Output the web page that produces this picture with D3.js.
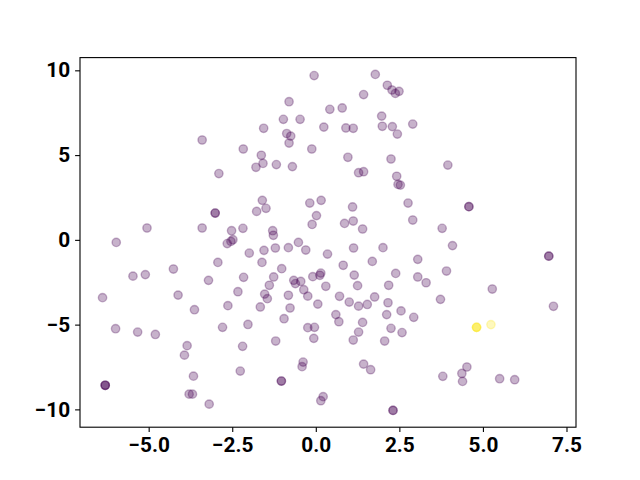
<!DOCTYPE html>
<html>
<head>
<meta charset="utf-8">
<script src="https://cdn.jsdelivr.net/npm/d3@7"></script>
<style>
  body { margin: 0; background: #fff; }
  svg { display: block; }
  .tick text { font-family: Roboto, "DejaVu Sans", sans-serif; font-weight: bold; font-size: 20.8px; fill: #000; }
</style>
</head>
<body>
<svg id="chart" width="640" height="480"></svg>
<script>
// point positions
const xs = [
  -3.40, -2.17, -2.90,
  -0.05, 1.78, 2.14, 2.28, 2.38, 2.49, 1.43, -0.80, 0.42, 0.79, -0.97, -0.47, -1.56, 0.24, 0.90, 1.12,
  1.97, 1.99, 2.29, 2.44, 2.90, -0.87, -0.75, -0.80, -0.12, -1.63, -1.58, -1.79, -1.18, -0.70, 0.96,
  1.28, 1.43, 2.25, 2.42, 2.46, 2.53, 3.95,
  -3.01, -3.01, -5.05, -3.40, -2.52, -2.18, -5.97, -2.65, -2.54, -2.48, -1.99, -2.93, -4.26, -5.47,
  -5.10, -3.21, -2.16, -6.38, -4.12, -2.33, -2.63, -3.63,
  -1.60, -1.77, -1.49, -0.18, 0.16, 0.02, -0.11, 1.10, 2.76, 0.86, 1.12, 1.40, 2.90, -1.29, -1.27,
  -0.52, -0.30, -0.82, -1.21, -1.55, 0.35, 1.13, 2.01, -1.61, -1.02, 0.82, 1.69, 2.39, -1.26, -1.39,
  -0.66, -0.61, -0.45, 0.15, 0.12, -0.09, 1.15, 0.30, -0.36, -0.24, 1.25, 2.18, -1.53, -1.45, -0.82,
  0.71, 1.00, 1.28, 1.54, 1.76, 2.16, -1.66, -0.77, 0.06, 2.55,
  4.58, 4.58, 3.78, 4.09, 6.97, 6.97, 3.05, 3.91, 3.05, 3.30, 5.28, 3.73, 7.11,
  -5.99, -5.33, -4.80, -2.79, -2.03, -3.85, -3.93, -2.19, -3.66, -2.26, -6.30, -6.30, -6.30, -3.79,
  -3.69, -3.19,
  -0.95, 0.60, 0.69, 2.12, -0.24, -0.04, -0.06, 1.40, 1.28, 2.25, 2.58, 1.12, 2.06, -1.20, -0.38,
  -0.41, 1.43, 1.64, -1.03, -1.03, 0.22, 0.15, 2.31, 2.31,
  2.93, 4.37, 4.39, 3.80, 4.52, 5.50, 5.95,
  4.81, 4.81, 4.81, 5.24
];
const ys = [
  5.89, 5.36, 3.91,
  9.69, 9.76, 9.12, 8.84, 8.64, 8.76, 8.57, 8.15, 7.70, 7.78, 7.11, 7.11, 6.58, 6.65, 6.60, 6.58,
  7.30, 6.70, 6.68, 6.24, 6.83, 6.27, 6.12, 5.71, 5.36, 4.99, 4.51, 4.28, 4.44, 4.32, 4.87,
  3.96, 4.02, 4.77, 3.75, 3.27, 3.23, 4.41,
  1.58, 1.58, 0.70, 0.70, 0.54, 0.68, -0.15, -0.22, -0.09, 0.01, -0.78, -1.33, -1.72, -2.14,
  -2.05, -2.39, -2.21, -3.41, -3.26, -3.06, -3.88, -4.12,
  2.33, 1.68, 1.86, 2.17, 2.33, 1.43, 0.91, 1.94, 2.17, 0.97, 1.11, 0.64, 1.17, 0.54, 0.27,
  -0.15, -0.60, -0.46, -0.48, -0.62, -0.84, -0.48, -0.46, -1.33, -1.70, -1.50, -1.27, -1.98, -2.19, -2.68,
  -2.39, -2.58, -2.45, -1.96, -2.09, -2.17, -2.08, -2.74, -2.94, -3.32, -2.70, -2.68, -3.20, -3.47, -3.27,
  -3.33, -3.67, -3.91, -3.81, -3.37, -3.71, -3.96, -4.02, -3.79, -4.19,
  1.96, 1.96, 0.68, -0.34, -0.96, -0.96, -1.15, -1.84, -2.19, -2.53, -2.90, -3.51, -3.92,
  -5.24, -5.44, -5.58, -5.16, -4.99, -6.24, -6.80, -6.28, -8.04, -7.74, -8.58, -8.58, -8.58, -9.10,
  -9.10, -9.69,
  -4.65, -4.41, -4.83, -4.41, -5.18, -5.16, -5.81, -4.87, -5.44, -5.22, -5.47, -5.91, -5.97, -5.97, -7.21,
  -7.48, -7.33, -7.66, -8.33, -8.33, -9.25, -9.49, -10.06, -10.06,
  -4.57, -7.88, -8.35, -8.05, -7.50, -8.19, -8.25,
  -5.16, -5.16, -5.16, -5.00
];
// colour values (0 = purple, 1 = yellow); only the last four are 1
const cs = xs.map((d, i) => (i >= xs.length - 4 ? 1 : 0));

const xTicks = [-5, -2.5, 0, 2.5, 5, 7.5];
const yTicks = [-10, -5, 0, 5, 10];

const width = 640, height = 480;
const margin = { top: 57.6, right: 64, bottom: 52.8, left: 80 };
const w = width - margin.left - margin.right;
const h = height - margin.top - margin.bottom;

const svg = d3.select('#chart');
const g = svg.append('g').attr('transform', 'translate(' + margin.left + ',' + margin.top + ')');

// matplotlib style 5% padding
const pad = (ext) => { const r = ext[1] - ext[0]; return [ext[0] - 0.05 * r, ext[1] + 0.05 * r]; };
const x = d3.scaleLinear().domain(pad(d3.extent(xs))).range([0, w]);
const y = d3.scaleLinear().domain(pad(d3.extent(ys))).range([h, 0]);

const minus = (s) => s.replace('-', '\u2212');

const xAxis = g.append('g')
  .attr('transform', 'translate(0,' + h + ')')
  .call(d3.axisBottom(x).tickValues(xTicks).tickSize(4.9).tickPadding(4.9)
    .tickFormat((d) => minus(d3.format('.1f')(d))));
const yAxis = g.append('g')
  .call(d3.axisLeft(y).tickValues(yTicks).tickSize(4.9).tickPadding(4.9)
    .tickFormat((d) => minus(d3.format('d')(d))));

[xAxis, yAxis].forEach((a) => {
  a.select('.domain').remove();
  a.selectAll('.tick line').attr('stroke', '#000').attr('stroke-width', 1.1);
});
xAxis.selectAll('.tick text').attr('dy', '0.71em');

// points
const pts = xs.map((d, i) => ({ x: d, y: ys[i], c: cs[i] }));
g.append('g')
  .selectAll('circle')
  .data(pts)
  .enter()
  .append('circle')
  .attr('cx', (d) => x(d.x))
  .attr('cy', (d) => y(d.y))
  .attr('r', 4.17)
  .attr('fill', (d) => d3.interpolateViridis(d.c))
  .attr('fill-opacity', 0.3)
  .attr('stroke', (d) => d3.interpolateViridis(d.c))
  .attr('stroke-opacity', 0.3)
  .attr('stroke-width', 1.39);

// frame
g.append('rect')
  .attr('width', w)
  .attr('height', h)
  .attr('fill', 'none')
  .attr('stroke', '#000')
  .attr('stroke-width', 1.1);
</script>
</body>
</html>
